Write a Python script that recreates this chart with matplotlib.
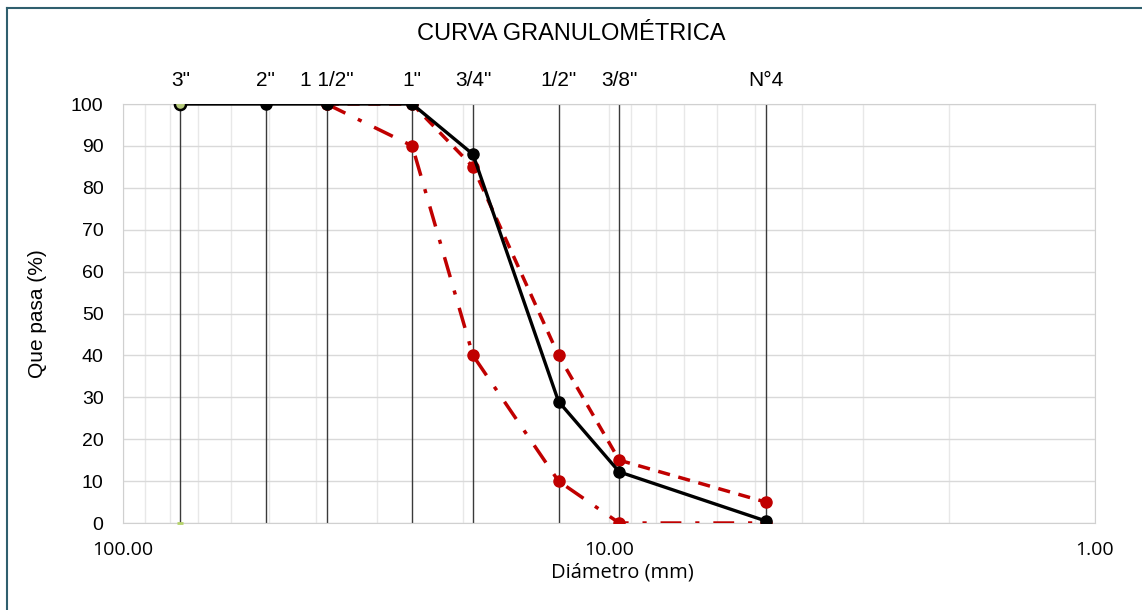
import numpy as np
import matplotlib.pyplot as plt
from matplotlib.lines import Line2D
from matplotlib.ticker import FixedLocator, NullFormatter

# tamices (pulgadas -> mm)
tamices = ['3"', '2"', '1 1/2"', '1"', '3/4"', '1/2"', '3/8"', 'N°4']
aberturas = [76.2, 50.8, 38.1, 25.4, 19.05, 12.7, 9.525, 4.76]

# curva del agregado
pasa = [100, 100, 100, 100, 88, 29, 12.2, 0.5]
# limites del huso granulometrico
lim_sup = [None, None, 100, 100, 85, 40, 15, 5]
lim_inf = [None, None, 100, 90, 40, 10, 0, 0]

plt.rcParams['font.family'] = ['Liberation Sans', 'DejaVu Sans']

fig = plt.figure(figsize=(11.42, 6.10), dpi=100)
ax = fig.add_axes([0.1077, 0.1426, 0.8511, 0.6869])

ax.set_xscale('log')
ax.set_xlim(100, 1)
ax.set_ylim(0, 100)

# grilla
minors = [m * d for d in (1, 10) for m in range(2, 10)]
ax.xaxis.set_minor_locator(FixedLocator(minors))
ax.xaxis.set_minor_formatter(NullFormatter())
ax.set_xticks([100, 10, 1])
ax.set_xticklabels(['100.00', '10.00', '1.00'], family=['Open Sans', 'DejaVu Sans'], fontsize=14)
ax.set_yticks(np.arange(0, 101, 10))
ax.tick_params(axis='y', labelsize=14, length=0, pad=14)
ax.tick_params(axis='x', which='both', length=0, pad=13)
ax.grid(True, which='both', axis='x', color='#e8e8e8', lw=1)
ax.grid(True, which='major', axis='y', color='#d9d9d9', lw=1)
ax.set_axisbelow(True)
for s in ax.spines.values():
    s.set_color('#d0d0d0')

# lineas verticales de los tamices
ax.vlines(aberturas, 0, 100, color='#3a3a3a', lw=1, zorder=2)

def serie(y):
    xs = [a for a, v in zip(aberturas, y) if v is not None]
    ys = [v for v in y if v is not None]
    return xs, ys

x1, y1 = serie(lim_inf)
ax.plot(x1, y1, color='#c00000', lw=2.5, ls=(0, (6, 4, 1.2, 4)), marker='o', ms=8, zorder=3)
x2, y2 = serie(lim_sup)
ax.plot(x2, y2, color='#c00000', lw=2.5, ls=(0, (3.5, 2.5)), marker='o', ms=8, zorder=3)
ax.plot(aberturas, pasa, color='black', lw=2.4, marker='o', ms=8, zorder=4)
ax.plot(aberturas[0], pasa[0], marker='o', ms=8, mfc='#b5c97a', mec='black', mew=1.8, zorder=5)
ax.plot(aberturas[0], 0, marker='_', ms=5, color='#b5d36a', mew=2, zorder=5, clip_on=False)

# nombre de los tamices arriba
for t, a in zip(tamices, aberturas):
    ax.text(a, 103.3, t, ha='center', va='bottom', fontsize=15)

ax.set_ylabel('Que pasa (%)', fontsize=15, labelpad=17)
ax.set_xlabel('Diámetro (mm)', family=['Open Sans', 'DejaVu Sans'], fontsize=14.5)
ax.xaxis.set_label_coords(0.514, -0.095)
fig.text(0.5, 0.944, 'CURVA GRANULOMÉTRICA', ha='center', va='center', fontsize=17)

# marco
fig.add_artist(Line2D([0.006, 0.006], [0, 0.987], color='#2f5f6e', lw=1.5))
fig.add_artist(Line2D([0.006, 1], [0.987, 0.987], color='#2f5f6e', lw=1.5))

fig.savefig('out.png', dpi=100)
